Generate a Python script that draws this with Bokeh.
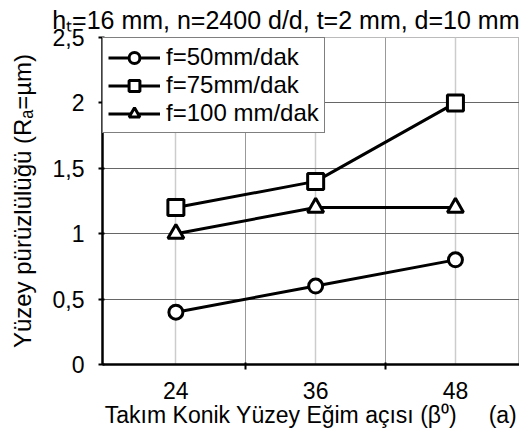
from bokeh.plotting import figure
from bokeh.models import FixedTicker, Range1d, Legend, LegendItem, Title
from bokeh.embed import file_html
from bokeh.resources import INLINE

angles = [24, 36, 48]
f50 = [0.4, 0.6, 0.8]
f75 = [1.2, 1.4, 2.0]
f100 = [1.0, 1.2, 1.2]
series_names = ["f=50mm/dak", "f=75mm/dak", "f=100 mm/dak"]
y_ticks = [0, 0.5, 1, 1.5, 2, 2.5]
y_tick_labels = ["0", "0,5", "1", "1,5", "2", "2,5"]
x_bounds = [30, 42]

FONT = "Liberation Sans"

p = figure(width=519, height=443, output_backend="svg", toolbar_location=None,
           x_range=Range1d(17.7, 53.5), y_range=Range1d(0, 2.5),
           min_border_left=102, min_border_right=0, min_border_top=34,
           min_border_bottom=79)
p.title = Title(text="hₜ=16 mm, n=2400 d/d, t=2 mm, d=10 mm", align="right",
                text_font=FONT, text_font_size="25px", text_font_style="normal",
                text_color="black", offset=0, standoff=7)
p.background_fill_color = "white"
p.border_fill_color = "white"
p.outline_line_color = "#777777"
p.outline_line_dash = "1 1"
p.outline_line_width = 1

# axes
p.xaxis.ticker = FixedTicker(ticks=angles, minor_ticks=x_bounds)
p.xaxis.major_tick_line_color = None
p.xaxis.major_tick_out = 5
p.xaxis.minor_tick_line_color = "black"
p.xaxis.minor_tick_line_width = 2
p.xaxis.minor_tick_out = 5
p.xaxis.minor_tick_in = 2
p.xaxis.axis_line_width = 2.5
p.xaxis.axis_line_color = "black"
p.xaxis.axis_label = "Takım Konik Yüzey Eğim açısı (β⁰)" + "\u00a0" * 5 + "(a)"
p.xaxis.major_label_standoff = 12
p.xaxis.axis_label_standoff = 0
p.xaxis.axis_label_text_font_size = "23px"
p.xaxis.major_label_text_font_size = "23px"

p.yaxis.ticker = FixedTicker(ticks=y_ticks)
p.yaxis.major_label_overrides = {t: l for t, l in zip(y_ticks, y_tick_labels)}
p.yaxis.minor_tick_line_color = None
p.yaxis.major_tick_line_color = "black"
p.yaxis.major_tick_line_width = 2
p.yaxis.major_tick_out = 4
p.yaxis.major_tick_in = 2
p.yaxis.axis_line_width = 2.5
p.yaxis.axis_line_color = "black"
p.yaxis.axis_label = "Yüzey pürüzlülüğü (Rₐ=µm)"
p.yaxis.major_label_standoff = 14
p.yaxis.axis_label_standoff = 14
p.yaxis.axis_label_text_font_size = "24px"
p.yaxis.major_label_text_font_size = "23px"

for ax in (p.xaxis, p.yaxis):
    ax.major_label_text_font = FONT
    ax.major_label_text_color = "black"
    ax.axis_label_text_font = FONT
    ax.axis_label_text_font_style = "normal"
    ax.axis_label_text_color = "black"

# grids
p.ygrid.grid_line_color = "#666666"
p.ygrid.grid_line_width = 1
p.xgrid.grid_line_color = "#cccccc"
p.xgrid.grid_line_width = 1.5
p.xgrid.minor_grid_line_color = "#999999"
p.xgrid.minor_grid_line_width = 1

items = []
data = [f50, f75, f100]
markers = ["circle", "square", "triangle"]
sizes = [14, 16, 16]
for vals, mk, sz, name in zip(data, markers, sizes, series_names):
    ln = p.line(angles, vals, line_color="black", line_width=3)
    sc = p.scatter(angles, vals, marker=mk, size=sz, fill_color="white",
                   line_color="black", line_width=3)
    items.append(LegendItem(label=name, renderers=[ln, sc]))

legend = Legend(items=items, location="top_left")
legend.label_text_font = FONT
legend.label_text_font_size = "24px"
legend.label_text_color = "black"
legend.border_line_color = "black"
legend.border_line_width = 1.5
legend.background_fill_color = "white"
legend.background_fill_alpha = 1
legend.glyph_width = 52
legend.glyph_height = 27
legend.label_height = 27
legend.spacing = 0
legend.padding = 5
legend.margin = 0
legend.label_standoff = 6
p.add_layout(legend, "center")

open("out.html", "w").write(file_html(p, INLINE))
